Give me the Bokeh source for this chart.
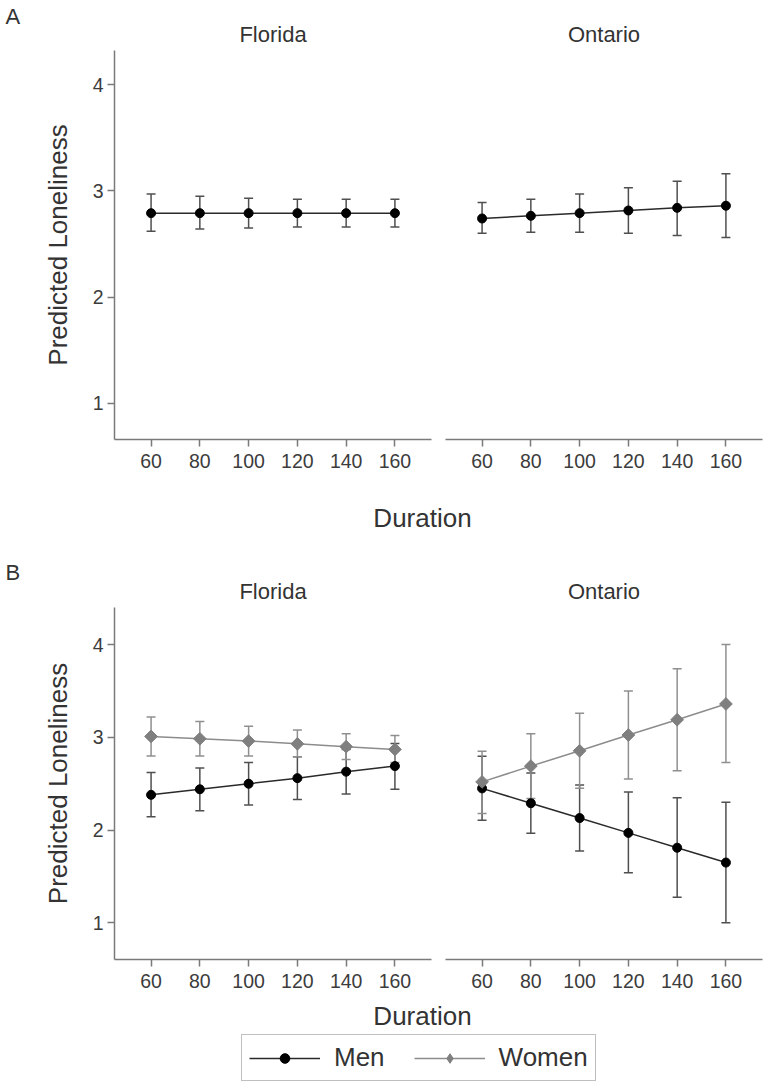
import numpy as np
from bokeh.plotting import figure
from bokeh.models import (Range1d, FixedTicker, Whisker, TeeHead, ColumnDataSource,
                          Legend, LegendItem)
from bokeh.layouts import column, row
from bokeh.embed import file_html
from bokeh.resources import INLINE
from bokeh.core.properties import value

# ---------------- data ----------------
durations = [60, 80, 100, 120, 140, 160]
y_ticks = [1, 2, 3, 4]
regions = ["Florida", "Ontario"]
groups = ["Men", "Women"]
panel_tags = ["A", "B"]

# Panel A (all participants)
fl_a_mean = [2.79, 2.79, 2.79, 2.79, 2.79, 2.79]
fl_a_lo = [2.62, 2.64, 2.65, 2.66, 2.66, 2.66]
fl_a_hi = [2.97, 2.95, 2.93, 2.92, 2.92, 2.92]
on_a_mean = [2.74, 2.765, 2.79, 2.815, 2.84, 2.86]
on_a_lo = [2.60, 2.61, 2.61, 2.60, 2.58, 2.56]
on_a_hi = [2.89, 2.92, 2.97, 3.03, 3.09, 3.16]

# Panel B (by gender)
fl_men = [2.38, 2.44, 2.50, 2.56, 2.63, 2.69]
fl_men_lo = [2.145, 2.21, 2.27, 2.33, 2.39, 2.44]
fl_men_hi = [2.62, 2.67, 2.73, 2.79, 2.87, 2.935]
fl_women = [3.01, 2.985, 2.96, 2.93, 2.90, 2.87]
fl_women_lo = [2.80, 2.80, 2.80, 2.79, 2.76, 2.73]
fl_women_hi = [3.22, 3.17, 3.12, 3.08, 3.04, 3.02]

on_men = [2.45, 2.29, 2.13, 1.97, 1.81, 1.65]
on_men_lo = [2.105, 1.965, 1.775, 1.54, 1.275, 1.00]
on_men_hi = [2.795, 2.615, 2.485, 2.41, 2.35, 2.30]
on_women = [2.52, 2.69, 2.855, 3.025, 3.19, 3.36]
on_women_lo = [2.18, 2.34, 2.45, 2.55, 2.64, 2.73]
on_women_hi = [2.85, 3.04, 3.26, 3.50, 3.74, 4.00]

# ---------------- style ----------------
FONT = "Liberation Sans"
TEXT = "#333333"
TICKTXT = "#3c3c3c"
AXIS = "#7a7a7a"
MEN_PT = "#000000"
MEN_LINE = "#2a2a2a"
MEN_ERR = "#4f4f4f"
WOM_PT = "#7f7f7f"
WOM_LINE = "#8c8c8c"
WOM_ERR = "#8f8f8f"


def make_panel_fig(title, width, height, mb_left, mb_right, mb_top, mb_bottom, yr, show_y):
    p = figure(width=width, height=height, x_range=Range1d(45, 175), y_range=Range1d(*yr),
               output_backend="svg", toolbar_location=None,
               min_border_left=mb_left, min_border_right=mb_right,
               min_border_top=mb_top, min_border_bottom=mb_bottom,
               y_axis_location="left" if show_y else None)
    p.title.text = title
    p.title.align = "center"
    p.title.text_font = FONT
    p.title.text_font_size = "22px"
    p.title.text_font_style = "normal"
    p.title.text_color = TEXT
    p.title.standoff = 8
    p.grid.visible = False
    p.outline_line_color = None
    p.background_fill_color = "white"
    p.border_fill_color = "white"
    axes = list(p.xaxis) + (list(p.yaxis) if show_y else [])
    for ax in axes:
        ax.axis_line_color = AXIS
        ax.axis_line_width = 1.5
        ax.major_tick_line_color = AXIS
        ax.major_tick_line_width = 1.5
        ax.major_tick_out = 7
        ax.major_tick_in = 0
        ax.minor_tick_out = 0
        ax.minor_tick_in = 0
        ax.major_label_text_font = FONT
        ax.major_label_text_font_size = "19.5px"
        ax.major_label_text_color = TICKTXT
        ax.axis_label_text_font = FONT
        ax.axis_label_text_font_size = "26px"
        ax.axis_label_text_font_style = "normal"
        ax.axis_label_text_color = TEXT
    p.xaxis.ticker = FixedTicker(ticks=durations)
    p.xaxis.major_label_standoff = 7
    if show_y:
        p.yaxis.ticker = FixedTicker(ticks=y_ticks)
        p.yaxis.major_label_standoff = 4
        p.yaxis.axis_label = "Predicted Loneliness"
        p.yaxis.axis_label_standoff = 17
    return p


def add_series(p, mean, lo, hi, marker, pt_color, line_color, err_color, size, angle=0.0):
    src = ColumnDataSource(dict(x=durations, y=mean, lo=lo, hi=hi))
    w = Whisker(base="x", upper="hi", lower="lo", source=src, dimension="height",
                line_color=err_color, line_width=1.5, level="underlay",
                upper_head=TeeHead(size=9, line_color=err_color, line_width=1.5),
                lower_head=TeeHead(size=9, line_color=err_color, line_width=1.5))
    p.add_layout(w)
    lr = p.line("x", "y", source=src, line_color=line_color, line_width=1.5)
    sr = p.scatter("x", "y", source=src, marker=marker, size=size, angle=angle,
                   fill_color=pt_color, line_color=pt_color)
    return lr, sr


def text_strip(text, width, height, x, y, size, align="center"):
    s = figure(width=width, height=height, x_range=Range1d(0, width), y_range=Range1d(0, height),
               output_backend="svg", toolbar_location=None, min_border=0,
               min_border_left=0, min_border_right=0, min_border_top=0, min_border_bottom=0,
               x_axis_location=None, y_axis_location=None)
    s.grid.visible = False
    s.outline_line_color = None
    s.text(x=[x], y=[y], text=[text], text_font=value(FONT), text_font_size=value(size),
           text_align=align, text_baseline="middle", text_color=TEXT)
    return s


# ---------------- panel A ----------------
HA = 479
yrA = (0.661, 4.32)
figAL = make_panel_fig(regions[0], 410, HA, 86, 7, 50, 40, yrA, True)
figAR = make_panel_fig(regions[1], 330, HA, 7, 6, 50, 40, yrA, False)
add_series(figAL, fl_a_mean, fl_a_lo, fl_a_hi, "circle", MEN_PT, MEN_LINE, MEN_ERR, 9)
add_series(figAR, on_a_mean, on_a_lo, on_a_hi, "circle", MEN_PT, MEN_LINE, MEN_ERR, 9)
# wrapped in a column so its frame is not aligned with the plot frames
stripA = column(text_strip(panel_tags[0], 28, HA, 5, HA - 16, "22px", align="left"))
durA = text_strip("Duration", 768, 72, 422, 34, "26px")

# ---------------- panel B ----------------
HB = 447
yrB = (0.605, 4.40)
figBL = make_panel_fig(regions[0], 410, HB, 86, 7, 56, 39, yrB, True)
figBR = make_panel_fig(regions[1], 330, HB, 7, 6, 56, 39, yrB, False)
add_series(figBL, fl_men, fl_men_lo, fl_men_hi, "circle", MEN_PT, MEN_LINE, MEN_ERR, 9)
add_series(figBL, fl_women, fl_women_lo, fl_women_hi, "square", WOM_PT, WOM_LINE, WOM_ERR, 9, np.pi / 4)
add_series(figBR, on_men, on_men_lo, on_men_hi, "circle", MEN_PT, MEN_LINE, MEN_ERR, 9)
add_series(figBR, on_women, on_women_lo, on_women_hi, "square", WOM_PT, WOM_LINE, WOM_ERR, 9, np.pi / 4)
stripB = column(text_strip(panel_tags[1], 28, HB, 5, HB - 20.5, "22px", align="left"))
durB = text_strip("Duration", 768, 34, 422, 17, "26px")

# ---------------- legend ----------------
lg = figure(width=768, height=52, x_range=Range1d(0, 1), y_range=Range1d(0, 1),
            output_backend="svg", toolbar_location=None, min_border=0,
            min_border_left=0, min_border_right=0, min_border_top=0, min_border_bottom=0,
            x_axis_location=None, y_axis_location=None)
lg.grid.visible = False
lg.outline_line_color = None
# legend renderers reuse the series data; they sit outside this strip's visible range
men_l = lg.line(x=durations, y=on_men, line_color=MEN_LINE, line_width=1.5)
men_s = lg.scatter(x=durations, y=on_men, marker="circle", size=9,
                   fill_color=MEN_PT, line_color=MEN_PT)
wom_l = lg.line(x=durations, y=on_women, line_color=WOM_LINE, line_width=1.5)
wom_s = lg.scatter(x=durations, y=on_women, marker="diamond", size=14,
                   fill_color=WOM_PT, line_color=WOM_PT)
legend = Legend(items=[LegendItem(label=groups[0], renderers=[men_l, men_s]),
                       LegendItem(label=groups[1], renderers=[wom_l, wom_s])],
                orientation="horizontal", location=(241, 3), margin=0,
                glyph_width=71, glyph_height=24, label_standoff=14, spacing=29, padding=7,
                border_line_color="#7f7f7f", border_line_width=1.5,
                background_fill_color="white", background_fill_alpha=1.0,
                label_text_font=FONT, label_text_font_size="26px", label_text_color=TEXT)
lg.add_layout(legend, "center")

layout = column(row(stripA, figAL, figAR), durA,
                row(stripB, figBL, figBR), durB, lg)

open("out.html", "w").write(file_html(layout, INLINE))
